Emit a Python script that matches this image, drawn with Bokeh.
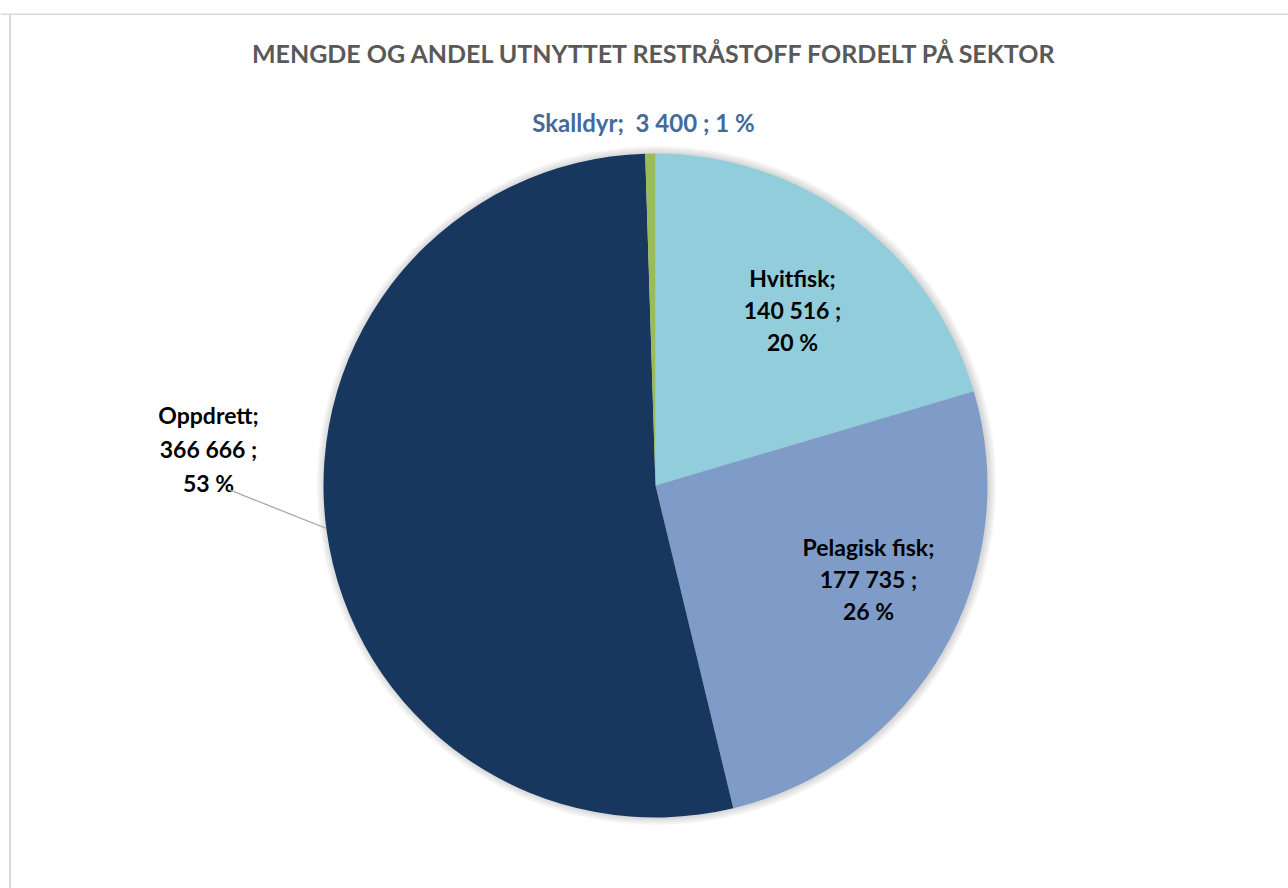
import math
from bokeh.plotting import figure
from bokeh.models import Range1d, Span, ColumnDataSource
from bokeh.core.properties import value
from bokeh.embed import file_html
from bokeh.resources import INLINE

# ---- data ----
sectors = ["Hvitfisk", "Pelagisk fisk", "Oppdrett", "Skalldyr"]
amounts = [140516, 177735, 366666, 3400]
pct_labels = ["20 %", "26 %", "53 %", "1 %"]
amount_labels = ["140 516", "177 735", "366 666", "3 400"]
colors = ["#92CDDC", "#7F9CC8", "#17375E", "#9BBB59"]
title_text = "MENGDE OG ANDEL UTNYTTET RESTRÅSTOFF FORDELT PÅ SEKTOR"

# ---- layout (image px -> data: x = px, y = 888-py) ----
W, H = 1288, 888
TOP = 13
def X(px): return px
def Y(py): return 888 - py

cx, cy, R = X(655), Y(485), 332

p = figure(width=W, height=H, output_backend="svg", toolbar_location=None,
           x_range=Range1d(0, W), y_range=Range1d(0, H - TOP),
           min_border_left=0, min_border_right=0, min_border_bottom=0,
           min_border_top=TOP)
p.axis.visible = False
p.grid.visible = False
p.outline_line_color = None
p.background_fill_color = "white"
p.border_fill_color = "white"

# chart border (left and top visible, rest cut off)
p.add_layout(Span(location=X(9.5), dimension="height", line_color="#D9D9D9", line_width=2))
p.add_layout(Span(location=Y(13.5), dimension="width", line_color="#D9D9D9", line_width=2))

# soft shadow
for k in range(1, 9):
    p.circle(x=[cx + 1], y=[cy], radius=R + k, fill_color="black", fill_alpha=0.018,
             line_color=None)

total = float(sum(amounts))
starts, ends = [], []
cum = 0.0
for a in amounts:
    s = math.pi / 2 - 2 * math.pi * cum / total
    cum += a
    e = math.pi / 2 - 2 * math.pi * cum / total
    starts.append(s)
    ends.append(e)

src = ColumnDataSource(dict(start=starts, end=ends, color=colors, name=sectors))
p.wedge(x=cx, y=cy, radius=R, start_angle="start", end_angle="end", direction="clock",
        fill_color="color", line_color=None, source=src)

font = value("Lato")

# title
p.text(x=[X(655)], y=[Y(52)], text=[title_text], text_font=font, text_font_style="bold",
       text_font_size="25px", text_color="#595959", text_align="center",
       text_baseline="middle")

# data labels: anchor centers (image px) and line spacing
label_pos = {
    "Hvitfisk": (792, 277, 32),
    "Pelagisk fisk": (868, 546, 32),
    "Oppdrett": (208, 414, 34),
}
lx, ly, lt = [], [], []
for name, amt, pc in zip(sectors, amount_labels, pct_labels):
    if name in label_pos:
        px, py, dy = label_pos[name]
        lines = [name + ";", amt + " ;", pc]
        for i, t in enumerate(lines):
            lx.append(X(px))
            ly.append(Y(py + i * dy))
            lt.append(t)
p.text(x=lx, y=ly, text=lt, text_font=font, text_font_style="bold",
       text_font_size="23px", text_color="#000000", text_align="center",
       text_baseline="middle")

# Skalldyr label (single line, blue)
i = sectors.index("Skalldyr")
p.text(x=[X(643)], y=[Y(122)],
       text=[f"{sectors[i]};\u00a0 {amount_labels[i]} ; {pct_labels[i]}"],
       text_font=font, text_font_style="bold", text_font_size="24px", text_color="#44699A",
       text_align="center", text_baseline="middle")

# leader line for Oppdrett
p.line(x=[X(228), X(326)], y=[Y(489), Y(528)], line_color="#A6A6A6", line_width=1.3)

open("out.html", "w").write(file_html(p, INLINE))
